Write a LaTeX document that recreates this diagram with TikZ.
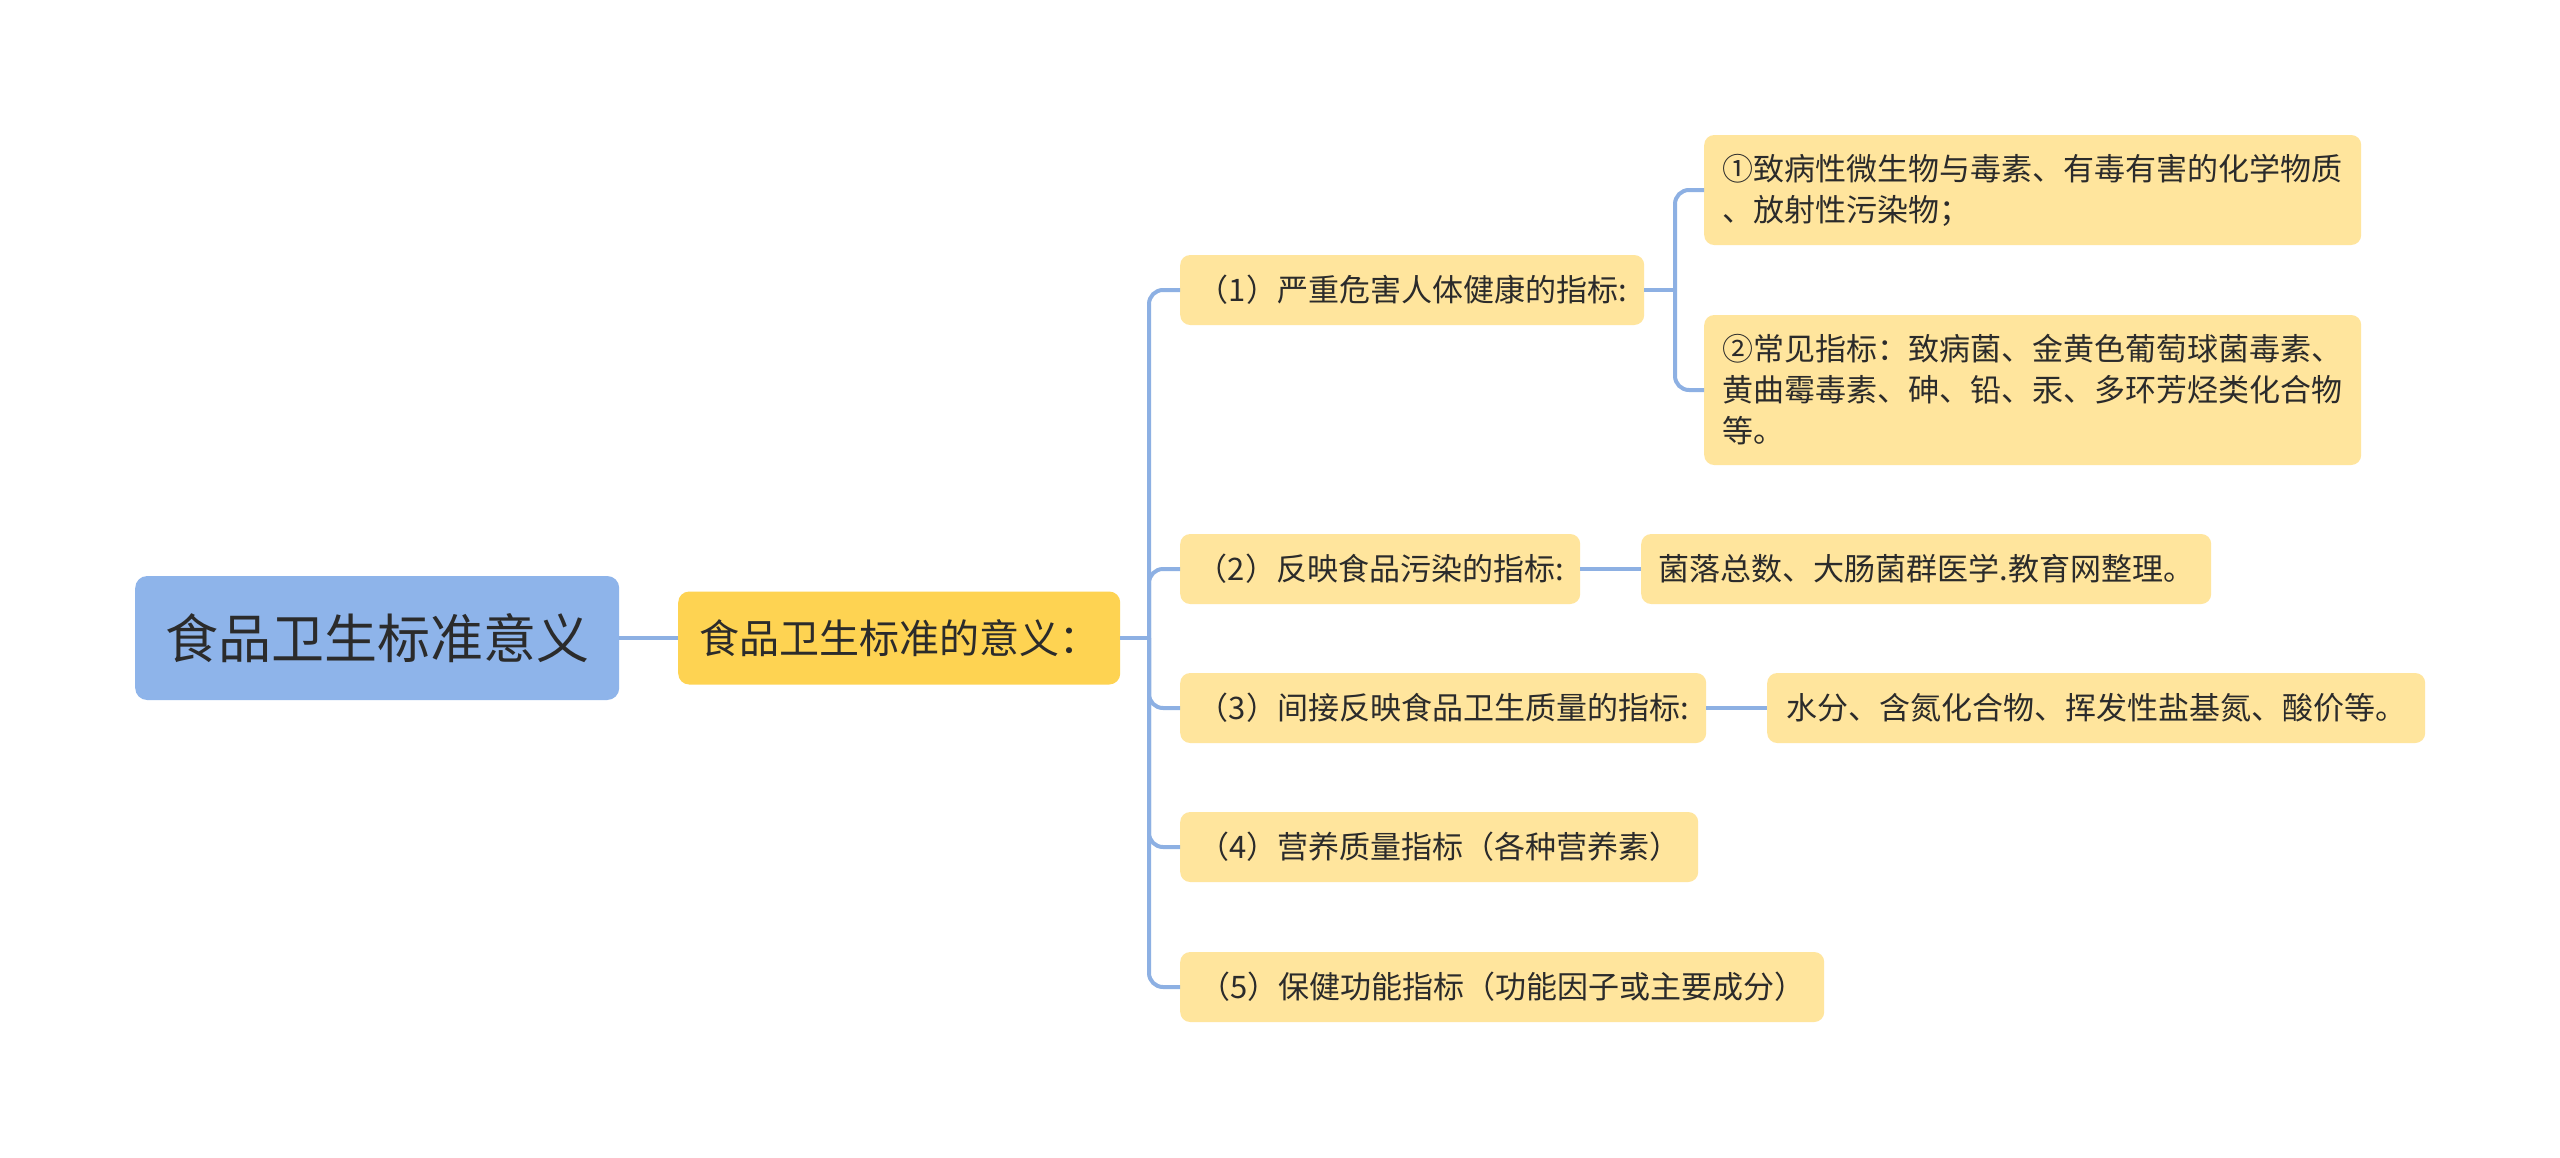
\documentclass[tikz,border=0pt]{standalone}
\usepackage{fontspec}
\setmainfont{Noto Sans CJK SC}
\definecolor{rootfill}{HTML}{8EB4EA}
\definecolor{lonefill}{HTML}{FED352}
\definecolor{leaffill}{HTML}{FFE59D}
\definecolor{linec}{HTML}{8DB0E3}
\definecolor{txt}{HTML}{2B2B2B}
\begin{document}
\begin{tikzpicture}[x=1pt,y=-1pt,
  conn/.style={draw=linec, line width=4pt},
  elbow/.style={conn, rounded corners=14pt},
  basebox/.style={anchor=west, inner sep=0pt, align=left, text=txt},
  rootbox/.style={basebox, fill=rootfill, rounded corners=12pt, minimum height=124pt,
    font=\fontsize{53}{64}\selectfont},
  onebox/.style={basebox, fill=lonefill, rounded corners=11pt, minimum height=93pt,
    font=\fontsize{40}{50}\selectfont},
  leafbox/.style={basebox, fill=leaffill, rounded corners=10pt,
    font=\fontsize{31}{41}\selectfont}]
\useasboundingbox (0,0) rectangle (2560,1157);
\fill[white] (0,0) rectangle (2560,1157);

% nodes
\node[rootbox, minimum width=484pt] (root) at (135,638) {食品卫生标准意义};
\node[onebox, minimum width=442pt] (one) at (678,638) {食品卫生标准的意义：};

\node[leafbox, minimum width=464pt, minimum height=70pt] (a1) at (1180,290) {（1）严重危害人体健康的指标:};
\node[leafbox, minimum width=400pt, minimum height=70pt] (a2) at (1180,569) {（2）反映食品污染的指标:};
\node[leafbox, minimum width=526pt, minimum height=70pt] (a3) at (1180,708) {（3）间接反映食品卫生质量的指标:};
\node[leafbox, minimum width=518pt, minimum height=70pt] (a4) at (1180,847) {（4）营养质量指标（各种营养素）};
\node[leafbox, minimum width=644pt, minimum height=70pt] (a5) at (1180,987) {（5）保健功能指标（功能因子或主要成分）};

\node[leafbox, minimum width=657pt, minimum height=110pt] (b1) at (1704,190) {①致病性微生物与毒素、有毒有害的化学物质\\、放射性污染物；};
\node[leafbox, minimum width=657pt, minimum height=150pt] (b2) at (1704,390) {②常见指标：致病菌、金黄色葡萄球菌毒素、\\黄曲霉毒素、砷、铅、汞、多环芳烃类化合物\\等。};
\node[leafbox, minimum width=570pt, minimum height=70pt] (c2) at (1641,569) {菌落总数、大肠菌群医学.教育网整理。};
\node[leafbox, minimum width=658pt, minimum height=70pt] (c3) at (1767,708) {水分、含氮化合物、挥发性盐基氮、酸价等。};

% connectors
\draw[conn] (root.east) -- (one.west);
\coordinate (t1) at (1149,638);
\draw[conn] (one.east) -- (t1);
\foreach \n in {a1,a2,a3,a4,a5} {\draw[elbow] (t1) |- (\n.west);}
\coordinate (t2) at (1675,290);
\draw[conn] (a1.east) -- (t2);
\draw[elbow] (t2) |- (b1.west);
\draw[elbow] (t2) |- (b2.west);
\draw[conn] (a2.east) -- (c2.west);
\draw[conn] (a3.east) -- (c3.west);
\end{tikzpicture}
\end{document}
